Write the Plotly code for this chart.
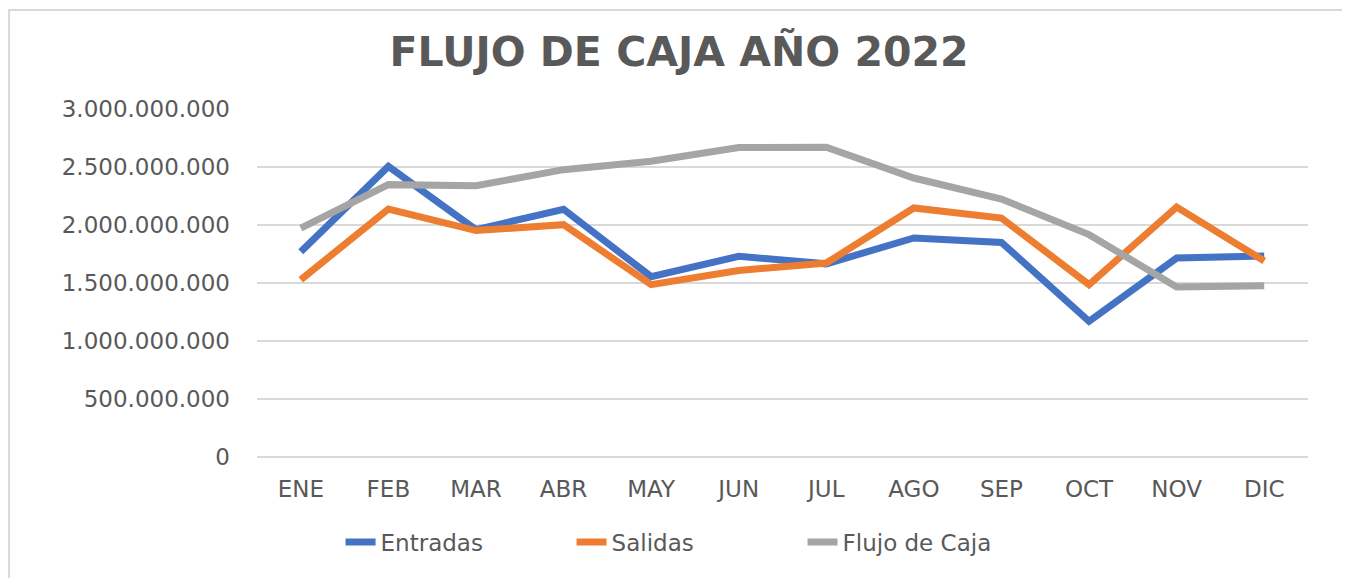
import plotly.graph_objects as go

# months and monthly values (COP)
meses = ["ENE", "FEB", "MAR", "ABR", "MAY", "JUN", "JUL", "AGO", "SEP", "OCT", "NOV", "DIC"]
entradas = [1770000000, 2505000000, 1960000000, 2135000000, 1555000000, 1730000000,
            1665000000, 1888000000, 1850000000, 1170000000, 1715000000, 1732000000]
salidas = [1528000000, 2138000000, 1952000000, 2003000000, 1486000000, 1608000000,
           1672000000, 2147000000, 2060000000, 1486000000, 2155000000, 1690000000]
flujo_caja = [1974000000, 2348000000, 2339000000, 2477000000, 2549000000, 2668000000,
              2670000000, 2405000000, 2224000000, 1917000000, 1466000000, 1477000000]

GRIS_TXT = "#595959"
FONT = "DejaVu Sans"

fig = go.Figure()

fig.add_trace(go.Scatter(x=meses, y=entradas, name="Entradas", mode="lines",
                         line=dict(color="#4472C4", width=7)))
fig.add_trace(go.Scatter(x=meses, y=salidas, name="Salidas", mode="lines",
                         line=dict(color="#ED7D31", width=7)))
fig.add_trace(go.Scatter(x=meses, y=flujo_caja, name="Flujo de Caja", mode="lines",
                         line=dict(color="#A5A5A5", width=7)))

fig.update_xaxes(range=[-0.5, 11.5], showgrid=False, showline=False, ticks="",
                 ticklabelstandoff=16,
                 tickfont=dict(family=FONT, size=23, color=GRIS_TXT))
fig.update_yaxes(range=[0, 3000000000], dtick=500000000, tickformat=",.0f",
                 gridcolor="#D9D9D9", gridwidth=1.5,
                 zeroline=True, zerolinecolor="#D9D9D9", zerolinewidth=1.5,
                 ticklabelstandoff=26,
                 tickfont=dict(family=FONT, size=23, color=GRIS_TXT))

# chart-area border (kept just inside the figure)
fig.add_shape(type="rect", xref="paper", yref="paper",
              x0=-0.2359, x1=1.0371, y0=-0.36, y1=1.2845,
              line=dict(color="#D9D9D9", width=2), layer="below")

# page body has an 8px margin, so the figure is sized to fit the window
fig.update_layout(
    width=1342, height=570,
    separators=",.",
    template="plotly_white",
    plot_bgcolor="white", paper_bgcolor="white",
    margin=dict(l=249, r=42, t=101, b=121),
    title=dict(text="<b>FLUJO DE CAJA AÑO 2022</b>", x=0.5, xref="container",
               y=0.923, yref="container", yanchor="middle", xanchor="center",
               font=dict(family=FONT, size=41, color=GRIS_TXT)),
    legend=dict(orientation="h", xref="container", x=0.506, xanchor="center",
                yref="container", y=0.063, yanchor="middle",
                entrywidth=186, entrywidthmode="pixels",
                font=dict(family=FONT, size=23, color=GRIS_TXT)),
    showlegend=True,
)

fig.write_html("out.html")
